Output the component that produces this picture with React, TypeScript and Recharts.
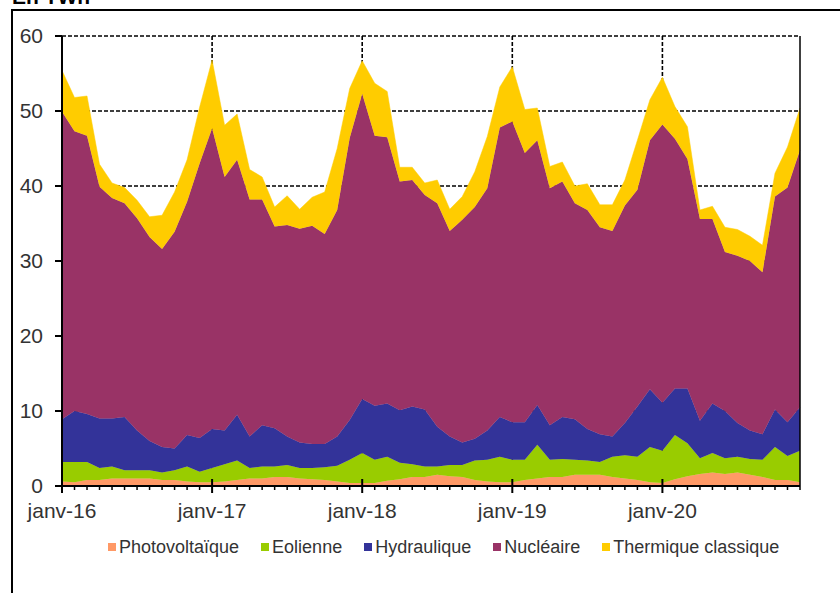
import React from 'react';
import { AreaChart, Area, XAxis, YAxis, CartesianGrid, Legend, ReferenceLine } from 'recharts';

const monthNames = ['janv', 'févr', 'mars', 'avr', 'mai', 'juin', 'juil', 'août', 'sept', 'oct', 'nov', 'déc'];
const years = ['16', '17', '18', '19', '20'];
const categories = years.flatMap((y) => monthNames.map((m) => `${m}-${y}`));
const majorLabels = ['janv-16', 'janv-17', 'janv-18', 'janv-19', 'janv-20'];
const yTicks = [0, 10, 20, 30, 40, 50, 60];

const photovoltaique = [
  0.6, 0.5, 0.8, 0.8, 1.0, 1.0, 1.0, 1.0, 0.8, 0.8, 0.6, 0.5,
  0.5, 0.6, 0.8, 1.0, 1.0, 1.2, 1.2, 1.0, 0.9, 0.8, 0.6, 0.4,
  0.4, 0.4, 0.7, 0.9, 1.2, 1.2, 1.5, 1.3, 1.2, 0.8, 0.6, 0.5,
  0.5, 0.8, 1.0, 1.2, 1.2, 1.5, 1.5, 1.5, 1.2, 1.0, 0.8, 0.5,
  0.4, 0.9, 1.3, 1.6, 1.8, 1.6, 1.8, 1.5, 1.2, 0.8, 0.8, 0.5,
];
const eolienne = [
  2.6, 2.7, 2.4, 1.6, 1.6, 1.1, 1.1, 1.1, 1.0, 1.3, 2.0, 1.4,
  1.9, 2.3, 2.6, 1.4, 1.6, 1.4, 1.6, 1.4, 1.5, 1.7, 2.1, 3.1,
  4.0, 3.1, 3.2, 2.2, 1.7, 1.4, 1.1, 1.5, 1.6, 2.6, 2.9, 3.4,
  3.0, 2.7, 4.5, 2.3, 2.4, 2.0, 1.9, 1.7, 2.7, 3.1, 3.1, 4.7,
  4.3, 5.9, 4.4, 2.1, 2.6, 2.1, 2.1, 2.1, 2.3, 4.4, 3.2, 4.2,
];
const hydraulique = [
  5.7, 6.8, 6.4, 6.6, 6.4, 7.1, 5.3, 3.9, 3.4, 2.9, 4.2, 4.5,
  5.2, 4.5, 6.1, 4.2, 5.5, 5.1, 3.8, 3.4, 3.2, 3.1, 3.9, 5.3,
  7.2, 7.2, 7.1, 7.0, 7.7, 7.6, 5.3, 3.8, 3.0, 2.9, 3.9, 5.3,
  5.0, 5.0, 5.3, 4.6, 5.6, 5.4, 4.2, 3.7, 2.7, 4.3, 6.7, 7.7,
  6.4, 6.2, 7.3, 5.0, 6.6, 6.3, 4.5, 3.8, 3.4, 5.0, 4.5, 5.8,
];
const nucleaire = [
  41.0, 37.3, 37.1, 30.9, 29.4, 28.5, 28.3, 27.2, 26.4, 28.9, 31.1, 36.6,
  40.1, 33.8, 34.0, 31.6, 30.1, 26.9, 28.2, 28.5, 29.1, 28.0, 30.2, 37.6,
  40.7, 36.0, 35.5, 30.5, 30.2, 28.6, 29.8, 27.4, 29.7, 30.9, 32.3, 38.6,
  40.1, 35.9, 35.3, 31.6, 31.4, 28.8, 29.2, 27.6, 27.4, 29.0, 28.9, 33.2,
  37.1, 33.3, 30.6, 26.9, 24.6, 21.2, 22.3, 22.6, 21.6, 28.4, 31.3, 34.3,
];
const thermique = [
  5.5, 4.5, 5.3, 3.0, 2.0, 2.1, 2.4, 2.7, 4.5, 5.3, 5.6, 7.5,
  9.1, 6.9, 6.1, 4.0, 3.0, 2.6, 3.9, 2.6, 3.8, 5.6, 8.2, 6.6,
  4.4, 7.0, 6.1, 1.9, 1.7, 1.6, 3.1, 2.9, 3.1, 4.7, 6.9, 5.4,
  7.3, 5.8, 4.3, 2.9, 2.6, 2.3, 3.5, 3.0, 3.5, 3.4, 6.6, 5.4,
  6.3, 4.3, 4.3, 1.2, 1.7, 3.3, 3.5, 3.3, 3.6, 3.1, 5.4, 5.6,
];

const series = [
  { key: 'pv', name: 'Photovoltaïque', color: '#FF9966', values: photovoltaique },
  { key: 'eol', name: 'Eolienne', color: '#99CC00', values: eolienne },
  { key: 'hyd', name: 'Hydraulique', color: '#333399', values: hydraulique },
  { key: 'nuc', name: 'Nucléaire', color: '#993366', values: nucleaire },
  { key: 'th', name: 'Thermique classique', color: '#FFCC00', values: thermique },
];

const data = categories.map((m, i) => {
  const row: Record<string, string | number> = { m };
  series.forEach((s) => {
    row[s.key] = s.values[i];
  });
  return row;
});

const FONT = '"Liberation Sans", Arial, sans-serif';
const TEXT = '#333333';

const XTick = (props: any) => {
  const { x, y, payload } = props;
  const isMajor = majorLabels.includes(payload.value);
  if (!isMajor) {
    return <line x1={x} x2={x} y1={y} y2={y + 4} stroke="#000" strokeWidth={1.5} />;
  }
  return (
    <g>
      <line x1={x} x2={x} y1={y - 7} y2={y + 7} stroke="#000" strokeWidth={2} />
      <text x={x} y={y + 17} dy="0.71em" textAnchor="middle" fill={TEXT} fontSize={21} fontFamily={FONT}>
        {payload.value}
      </text>
    </g>
  );
};

const LegendContent = () => (
  <div
    style={{
      display: 'flex',
      alignItems: 'center',
      height: 30,
      paddingLeft: 108,
      fontFamily: FONT,
      fontSize: 18,
      color: TEXT,
      whiteSpace: 'nowrap',
    }}
  >
    {series.map((s) => (
      <div key={s.key} style={{ display: 'flex', alignItems: 'center', marginRight: 22 }}>
        <span style={{ display: 'inline-block', width: 8, height: 8, background: s.color, marginRight: 3 }} />
        <span>{s.name}</span>
      </div>
    ))}
  </div>
);

export default function App() {
  return (
    <div style={{ position: 'absolute', left: 0, top: 0, width: 840, height: 593, overflow: 'hidden', background: '#fff' }}>
      <div
        style={{
          position: 'absolute',
          left: 12,
          top: -14,
          fontFamily: FONT,
          fontWeight: 'bold',
          fontSize: 21,
          lineHeight: '21px',
          color: '#000',
        }}
      >
        En TWh
      </div>
      <div
        style={{
          position: 'absolute',
          left: 11,
          top: 9,
          width: 900,
          height: 700,
          borderLeft: '2px solid #000',
          borderTop: '2px solid #000',
        }}
      />
      <div style={{ position: 'absolute', left: 0, top: 0 }}>
        <AreaChart width={840} height={593} data={data} margin={{ top: 36, right: 40, bottom: 31, left: 0 }}>
          <CartesianGrid
            stroke="#000"
            strokeWidth={1.6}
            strokeDasharray="4 2"
            verticalValues={majorLabels}
          />
          {series.map((s) => (
            <Area
              key={s.key}
              type="linear"
              dataKey={s.key}
              name={s.name}
              stackId="1"
              fill={s.color}
              fillOpacity={1}
              stroke={s.color}
              strokeWidth={0.5}
              isAnimationActive={false}
            />
          ))}
          <ReferenceLine x="déc-20" stroke="#000" strokeWidth={1.5} />
          <XAxis
            dataKey="m"
            interval={0}
            tickLine={false}
            tickSize={0}
            tickMargin={0}
            tick={(p: any) => <XTick {...p} />}
            axisLine={{ stroke: '#000', strokeWidth: 2 }}
            height={46}
          />
          <YAxis
            domain={[0, 60]}
            ticks={yTicks}
            width={62}
            tickSize={7}
            tickMargin={12}
            tickLine={{ stroke: '#000', strokeWidth: 2 }}
            axisLine={{ stroke: '#000', strokeWidth: 2 }}
            tick={{ fill: TEXT, fontSize: 21, fontFamily: FONT }}
            allowDataOverflow
          />
          <Legend
            verticalAlign="bottom"
            content={() => <LegendContent />}
            wrapperStyle={{ left: 0, width: 840, bottom: 31 }}
          />
        </AreaChart>
      </div>
    </div>
  );
}
